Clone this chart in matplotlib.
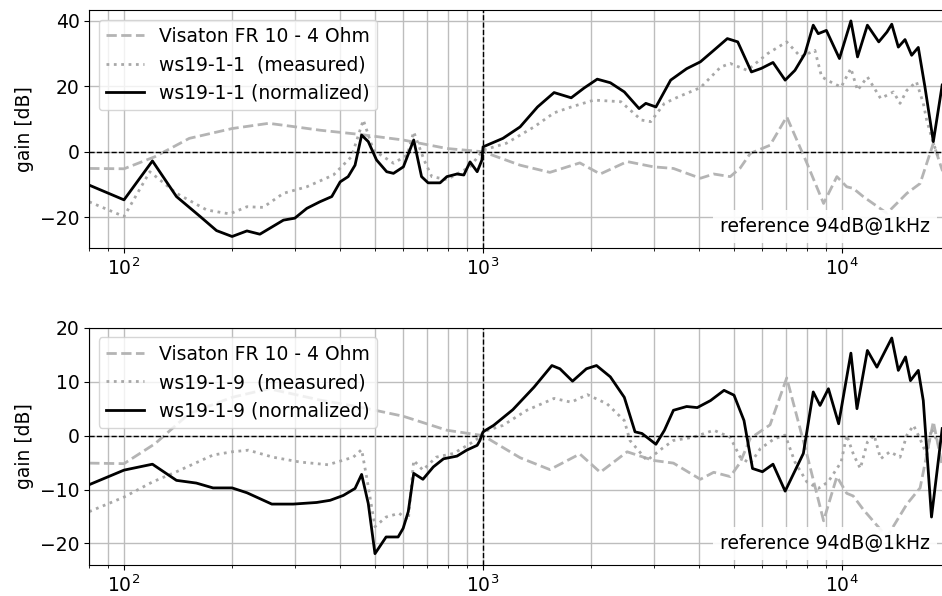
import numpy as np
import matplotlib
matplotlib.use("Agg")
import matplotlib.pyplot as plt

# Visaton FR 10 - 4 Ohm reference response (same in both panels)
f_vis = [80, 100, 122, 152, 200, 253, 301, 351, 454, 599, 793, 1000, 1268, 1535, 1860,
         2120, 2520, 2980, 3390, 4030, 4390, 4880, 5200, 5550, 6300, 7010, 7980, 8880,
         9670, 10300, 10740, 11450, 13330, 15150, 16490, 17950, 19000, 20000]
g_vis = [-5.1, -5.2, -1.5, 4.1, 7.1, 8.7, 7.6, 6.6, 5.3, 3.6, 1.0, 0.0, -4.1, -6.3, -3.4,
         -6.8, -3.0, -4.6, -5.1, -8.1, -6.8, -7.6, -5.0, -0.5, 2.0, 10.7, -3.5, -15.8,
         -7.6, -10.7, -11.2, -13.7, -18.8, -12.7, -9.7, 2.6, -5.6, -8.0]

# ws19-1-1 normalized
f_n1 = [80, 100, 120, 140, 163, 181, 200, 220, 239, 278, 299, 323, 351, 379, 400, 421, 440,
        459, 479, 505, 539, 563, 600, 641, 674, 703, 759, 793, 846, 884, 920, 963, 993,
        1000, 1136, 1268, 1418, 1577, 1760, 1912, 2080, 2262, 2474, 2720, 2840, 3030,
        3330, 3690, 4030, 4390, 4790, 5120, 5590, 5960, 6420, 6940, 7390, 7880, 8310,
        8580, 9040, 9830, 10580, 11040, 11760, 12650, 13330, 13750, 14340, 14970, 15620,
        16300, 17010, 17950, 19000]
g_n1 = [-10.2, -14.7, -2.8, -13.7, -19.8, -24.1, -25.9, -24.2, -25.2, -20.9, -20.3, -17.3,
        -15.3, -13.7, -9.2, -7.6, -4.1, 5.1, 3.1, -2.5, -6.1, -6.6, -4.6, 3.6, -7.6, -9.5,
        -9.5, -7.6, -6.8, -7.1, -3.1, -6.1, -2.5, 1.5, 4.1, 7.6, 13.7, 18.1, 16.5, 19.5,
        22.2, 21.1, 18.3, 13.2, 14.8, 13.7, 21.9, 25.4, 27.5, 31.0, 34.6, 33.6, 24.4, 25.5,
        27.3, 21.9, 24.9, 30.0, 38.7, 36.1, 37.1, 28.5, 40.0, 29.0, 38.7, 33.6, 36.6, 39.0,
        32.0, 34.3, 29.5, 31.9, 19.8, 3.1, 20.4]

# ws19-1-1 measured
f_m1 = [80, 100, 118, 140, 170, 197, 220, 244, 278, 323, 383, 430, 464, 495, 563, 615, 641,
        685, 720, 793, 920, 1000, 1161, 1387, 1577, 1760, 2036, 2420, 2760, 2930, 3200,
        3500, 4030, 4590, 4880, 5440, 6200, 7010, 7670, 8400, 8770, 9450, 9940, 10580,
        11040, 11760, 12800, 13900, 14500, 15150, 16110, 16830, 17200, 17950, 18600]
g_m1 = [-15.3, -19.8, -6.1, -12.7, -17.8, -19.0, -16.8, -17.0, -12.7, -10.7, -7.1, -1.5,
        9.7, 0.5, -3.5, -1.0, 6.1, -2.5, -7.6, -8.5, -4.6, 0.5, 2.6, 7.6, 11.9, 13.7, 15.8,
        15.3, 9.7, 9.2, 14.8, 16.8, 19.6, 25.9, 27.0, 24.9, 30.0, 33.6, 29.0, 31.0, 22.9,
        20.9, 19.8, 25.5, 18.8, 22.9, 16.3, 18.3, 14.8, 18.8, 21.4, 14.8, 9.7, 2.6, -2.0]

# ws19-1-9 normalized
f_n9 = [80, 100, 120, 140, 159, 177, 200, 220, 258, 296, 344, 375, 408, 440, 459, 479, 500,
        537, 580, 599, 619, 641, 680, 727, 776, 846, 900, 963, 980, 1000, 1070, 1210,
        1387, 1555, 1637, 1775, 1940, 2070, 2262, 2474, 2650, 2770, 3030, 3200, 3390,
        3690, 3950, 4300, 4690, 5000, 5330, 5630, 6000, 6420, 6940, 7800, 8310, 8680,
        9160, 9780, 10580, 11000, 11760, 12500, 13200, 13750, 14340, 15020, 15500, 16300,
        16830, 17740, 19000]
g_n9 = [-9.1, -6.4, -5.3, -8.3, -8.8, -9.7, -9.7, -10.6, -12.7, -12.7, -12.4, -12.0, -11.1,
        -9.8, -7.2, -12.6, -21.9, -18.8, -18.8, -17.2, -14.1, -7.0, -8.1, -5.8, -4.3, -3.8,
        -2.7, -1.8, -0.9, 0.7, 1.9, 4.8, 9.0, 13.0, 12.4, 10.1, 12.4, 13.0, 10.9, 7.1, 0.7,
        0.4, -1.6, 1.0, 4.7, 5.4, 5.2, 6.5, 8.4, 7.5, 2.8, -6.1, -6.7, -5.3, -10.3, -3.3,
        8.1, 5.6, 8.7, 2.2, 15.3, 5.0, 15.8, 12.7, 15.8, 18.1, 12.1, 14.6, 10.2, 12.1, 6.5,
        -15.1, 1.3]

# ws19-1-9 measured
f_m9 = [80, 100, 120, 140, 177, 200, 222, 260, 309, 370, 435, 459, 474, 500, 537, 584, 619,
        641, 680, 740, 828, 920, 980, 1000, 1136, 1324, 1577, 1760, 1952, 2215, 2474, 2565,
        2860, 3150, 3390, 3850, 4390, 4880, 5200, 5550, 5920, 6470, 6940, 7390, 7980, 8580,
        9140, 9940, 10300, 10770, 11240, 11760, 12280, 12800, 13580, 14500, 15150, 15810,
        16490, 17200, 17740, 18800]
g_m9 = [-14.1, -11.4, -8.6, -6.7, -3.6, -3.0, -2.7, -4.0, -4.9, -5.4, -4.0, -2.6, -7.7,
        -16.9, -15.1, -14.4, -15.7, -4.6, -6.4, -4.0, -3.3, -1.5, -0.3, 0.7, 1.9, 4.7, 6.9,
        6.2, 7.6, 5.9, 2.8, -0.9, -4.6, -2.4, -0.9, -0.3, 1.0, -0.3, -4.0, -5.2, -2.4, -0.6,
        0.1, -4.9, -8.6, -9.8, -8.6, -4.9, 0.1, -3.6, -6.1, -1.2, 0.1, -4.3, -3.0, -4.0, 0.1,
        1.9, -0.6, -3.6, 1.3, -2.4]

panels = [
    ("ws19-1-1", f_m1, g_m1, f_n1, g_n1, (-29.4, 43.3), [-20, 0, 20, 40]),
    ("ws19-1-9", f_m9, g_m9, f_n9, g_n9, (-24.0, 20.0), [-20, -10, 0, 10, 20]),
]

plt.rcParams['font.size'] = 13.5
fig = plt.figure(figsize=(9.42, 5.96), dpi=100)
axes = [fig.add_axes([0.0947, 0.584, 0.914, 0.399]),
        fig.add_axes([0.0947, 0.052, 0.914, 0.398])]

for ax, (name, fm, gm, fn, gn, ylim, yt) in zip(axes, panels):
    ax.semilogx(f_vis, g_vis, '--', color='#b4b4b4', lw=2, label='Visaton FR 10 - 4 Ohm')
    ax.semilogx(fm, gm, ':', color='#a8a8a8', lw=2, label=name + '  (measured)')
    ax.semilogx(fn, gn, '-', color='black', lw=2, label=name + ' (normalized)')
    ax.axhline(0, color='black', ls='--', lw=1)
    ax.axvline(1000, color='black', ls='--', lw=1)
    ax.set_xlim(80, 20000)
    ax.set_ylim(*ylim)
    ax.set_yticks(yt)
    ax.grid(True, which='major', color='#bdbdbd', lw=1)
    ax.grid(True, which='minor', axis='x', color='#bdbdbd', lw=1)
    ax.set_ylabel('gain [dB]')
    ax.legend(loc='upper left')
    ax.text(0.9766, 0.09, 'reference 94dB@1kHz', transform=ax.transAxes, ha='right',
            va='center', bbox=dict(facecolor='white', edgecolor='none', alpha=0.9, pad=5), zorder=5)

fig.savefig('out.png', dpi=100)
